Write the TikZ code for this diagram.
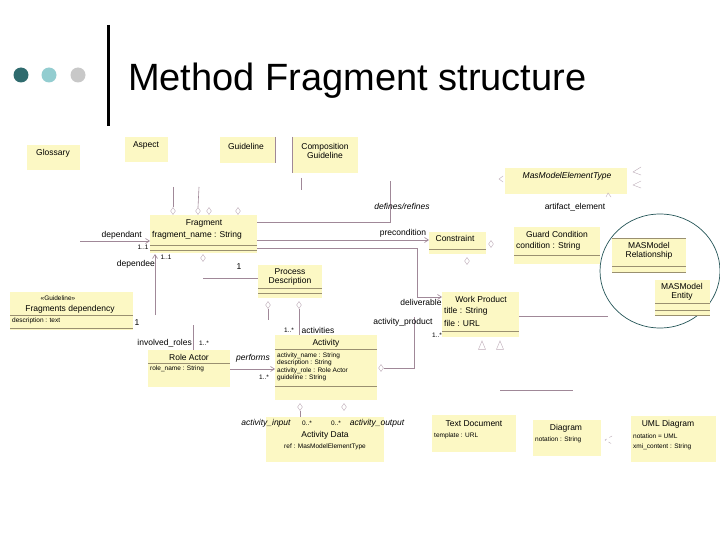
\documentclass[tikz,border=0pt]{standalone}
\usepackage{fontspec}
\setmainfont{Liberation Sans}
\usetikzlibrary{shapes.geometric,arrows.meta}
\definecolor{boxy}{HTML}{FCF8C4}
\definecolor{ln}{HTML}{A08898}
\definecolor{sep}{HTML}{9A9070}
\definecolor{d1}{HTML}{2F6B6E}\definecolor{d2}{HTML}{93CDD0}\definecolor{d3}{HTML}{C8C8C8}
\begin{document}
\begin{tikzpicture}[x=1pt,y=-1pt,
  box/.style={fill=boxy,draw=none},
  t/.style={font=\fontsize{8.5}{9.5}\selectfont,inner sep=0pt},
  s/.style={font=\fontsize{6.5}{7.5}\selectfont,inner sep=0pt},
  c/.style={draw=ln,line width=0.6pt},
  dm/.style={draw=ln!70,diamond,minimum width=5pt,minimum height=7pt,inner sep=0pt},
  ar/.style={c,-{Straight Barb[length=4pt,width=5pt]}}]
\useasboundingbox (0,0) rectangle (720,540);
\fill[white] (0,0) rectangle (720,540);
% header
\fill[d1] (21,75) circle (7.5);
\fill[d2] (49,75) circle (7.5);
\fill[d3] (78,75) circle (7.5);
\draw[line width=3pt] (108,25) -- (108,126);
\node[anchor=base west,inner sep=0pt,font=\fontsize{38}{44}\selectfont] (title) at (128,91) {Method Fragment structure};
% boxes top
\fill[box] (27,145) rectangle (80,170); \node[t] (glo) at (53,153) {Glossary};
\fill[box] (125,137) rectangle (168,162); \node[t] (asp) at (146,145) {Aspect};
\fill[box] (220,137) rectangle (275,163); \node[t] (gui) at (246,146) {Guideline};
\draw[c] (275,137) -- (275,163);
\fill[box] (292,137) rectangle (358,173); \node[t,align=center] (cg) at (325,151) {Composition\\Guideline};
\draw[c] (292,137) -- (292,173);
\draw[c] (301,178) -- (301,190);
% Fragment
\fill[box] (150,215) rectangle (257,253);
\node[t] (frag) at (204,223) {Fragment};
\node[t,anchor=west] (fragA) at (152,235) {fragment\_name : String};
\draw[sep] (150,245) -- (257,245) (150,250) -- (257,250);
\node[dm] (q1) at (173,211) {}; \node[dm] (q2) at (198,211) {};
\node[dm] (q3) at (209,211) {}; \node[dm] (q4) at (238,211) {};
\draw[c] (173,187) -- (q1.north); \draw[c] (199,187) -- (q2.north);
\coordinate (dpa) at (80,241);
\draw[ar] (dpa) -- (150,241);
\node[t,anchor=east] (ldp) at (142,235) {dependant};
\node[s] at (143,247) {1..1};
\coordinate (dpe) at (155,315);
\draw[ar] (dpe) -- (155,254);
\node[t,anchor=east] (lde) at (155,264) {dependee};
\node[s] at (166,257) {1..1};
\node[dm] (q5) at (203,258) {};
% Process Description
\fill[box] (258,265) rectangle (322,298);
\node[t,align=center] (pd) at (290,277) {Process\\Description};
\draw[sep] (258,288) -- (322,288) (258,293) -- (322,293);
\draw[c] (203,278) -- (258,278);
\node[t] at (239,267) {1};
\node[dm] (q6) at (268,305) {}; \node[dm] (q7) at (299,305) {};
\draw[c] (q6.south) -- (268,320); \draw[c] (q7.south) -- (299,335);
% Fragments dependency
\fill[box] (10,292) rectangle (133,330);
\node[s] at (58,298) {<<Guideline>>};
\node[t] (fd) at (70,309) {Fragments dependency};
\draw[sep] (10,315) -- (133,315) (10,328) -- (133,328);
\node[s,anchor=west] at (12,321) {description : text};
\node[t] at (137,323) {1};
% Role Actor
\fill[box] (148,350) rectangle (230,387);
\node[t] (ra) at (189,357) {Role Actor};
\draw[sep] (148,363) -- (230,363);
\node[s,anchor=west] at (150,369) {role\_name : String};
\draw[c] (193,325) -- (193,350);
\node[t,anchor=east] at (192,343) {involved\_roles};
\node[s] at (204,343) {1..*};
% Activity
\fill[box] (275,335) rectangle (377,400);
\node[t] (act) at (326,343) {Activity};
\draw[sep] (275,349) -- (377,349) (275,386) -- (377,386);
\node[s,anchor=west,align=left] at (277,367) {activity\_name : String\\description : String\\activity\_role : Role Actor\\guideline : String};
\draw[ar] (230,369) -- (275,369);
\node[t,font=\fontsize{8.5}{9.5}\selectfont\itshape] at (253,358) {performs};
\node[s] at (264,377) {1..*};
\node[t] at (318,330) {activities};
\node[s] at (289,330) {1..*};
% Work Product
\fill[box] (442,292) rectangle (519,337);
\node[t] (wp) at (481,299) {Work Product};
\node[t,anchor=west] at (444,311) {title : String};
\node[t,anchor=west] at (444,323) {file : URL};
\draw[sep] (442,331) -- (519,331);
\node[dm] (q8) at (381,368) {};
\draw[c] (q8.east) -- (414,368) -- (414,317);
\node[t] at (403,322) {activity\_product};
\node[s] at (437,335) {1..*};
\node[draw=ln!70,isosceles triangle,shape border rotate=90,minimum size=7pt,inner sep=0pt] (tr1) at (482,347) {};
\node[draw=ln!70,isosceles triangle,shape border rotate=90,minimum size=7pt,inner sep=0pt] (tr2) at (500,347) {};
\draw[c] (257,248) -- (417,248) -- (417,297);
\draw[ar] (417,297) -- (442,297);
\node[t] (ldel) at (421,302) {deliverable};
% defines/refines, precondition
\draw[c] (257,222) -- (390,222) -- (390,181);
\node[t,font=\fontsize{8.5}{9.5}\selectfont\itshape] at (402,206) {defines/refines};
\fill[box] (429,232) rectangle (486,254);
\node[t] (con) at (455,238) {Constraint};
\draw[sep] (429,249) -- (486,249);
\draw[ar] (257,240) -- (429,240);
\node[t] at (403,233) {precondition};
\node[dm] (q9) at (491,244) {}; \node[dm] (q10) at (467,261) {};
% MasModelElementType
\fill[box] (505,168) rectangle (627,194);
\node[t,font=\fontsize{8.5}{9.5}\selectfont\itshape] (mmet) at (567,176) {MasModelElementType};
\draw[ln!70] (503,176) -- (499,179) -- (503,182);
\draw[ln!70] (641,167) -- (633,172) -- (641,175) (641,181) -- (633,185) -- (641,188);
\draw[ln!70] (606,197) -- (608,193) -- (611,197);
\node[t] at (575,207) {artifact\_element};
% Guard Condition
\fill[box] (514,227) rectangle (600,264);
\node[t] (gc) at (557,234) {Guard Condition};
\node[t,anchor=west] at (516,246) {condition : String};
\draw[sep] (514,255) -- (600,255);
% MAS model
\draw[d1!80!black,line width=0.7pt] (660,271) ellipse (60 and 57);
\fill[box] (612,238) rectangle (686,272);
\node[t,align=center] (mr) at (649,251) {MASModel\\Relationship};
\draw[sep] (612,266) -- (686,266) (612,272) -- (686,272) (612,238)--(686,238);
\fill[box] (655,280) rectangle (710,315);
\node[t,align=center] (me) at (682,292) {MASModel\\Entity};
\draw[sep] (655,303) -- (710,303) (655,310) -- (710,310) (655,315) -- (710,315);
\draw[c] (519,316) -- (608,316);
\draw[c] (500,390) -- (573,390);
% Activity Data
\fill[box] (266,417) rectangle (384,462);
\node[t] (ad) at (325,435) {Activity Data};
\node[s] at (325,447) {ref : MasModelElementType};
\node[dm] (q11) at (300,407) {}; \node[dm] (q12) at (344,407) {};
\draw[c] (q11.south) -- (300,417);
\node[t,font=\fontsize{8.5}{9.5}\selectfont\itshape] at (266,423) {activity\_input};
\node[s] at (307,423) {0..*};
\node[s] at (336,423) {0..*};
\node[t,font=\fontsize{8.5}{9.5}\selectfont\itshape] at (377,423) {activity\_output};
% bottom right
\fill[box] (432,415) rectangle (516,452);
\node[t] (td) at (474,424) {Text Document};
\node[s,anchor=west] at (434,436) {template : URL};
\fill[box] (533,420) rectangle (601,456);
\node[t] (dg) at (566,428) {Diagram};
\node[s,anchor=west] at (535,440) {notation : String};
\draw[ln!70,dashed] (612,436) -- (605,440) -- (612,444);
\fill[box] (631,416) rectangle (716,462);
\node[t] (uml) at (668,424) {UML Diagram};
\node[s,anchor=west] at (633,436) {notation = UML};
\node[s,anchor=west] at (633,447) {xmi\_content : String};
\end{tikzpicture}
\end{document}
